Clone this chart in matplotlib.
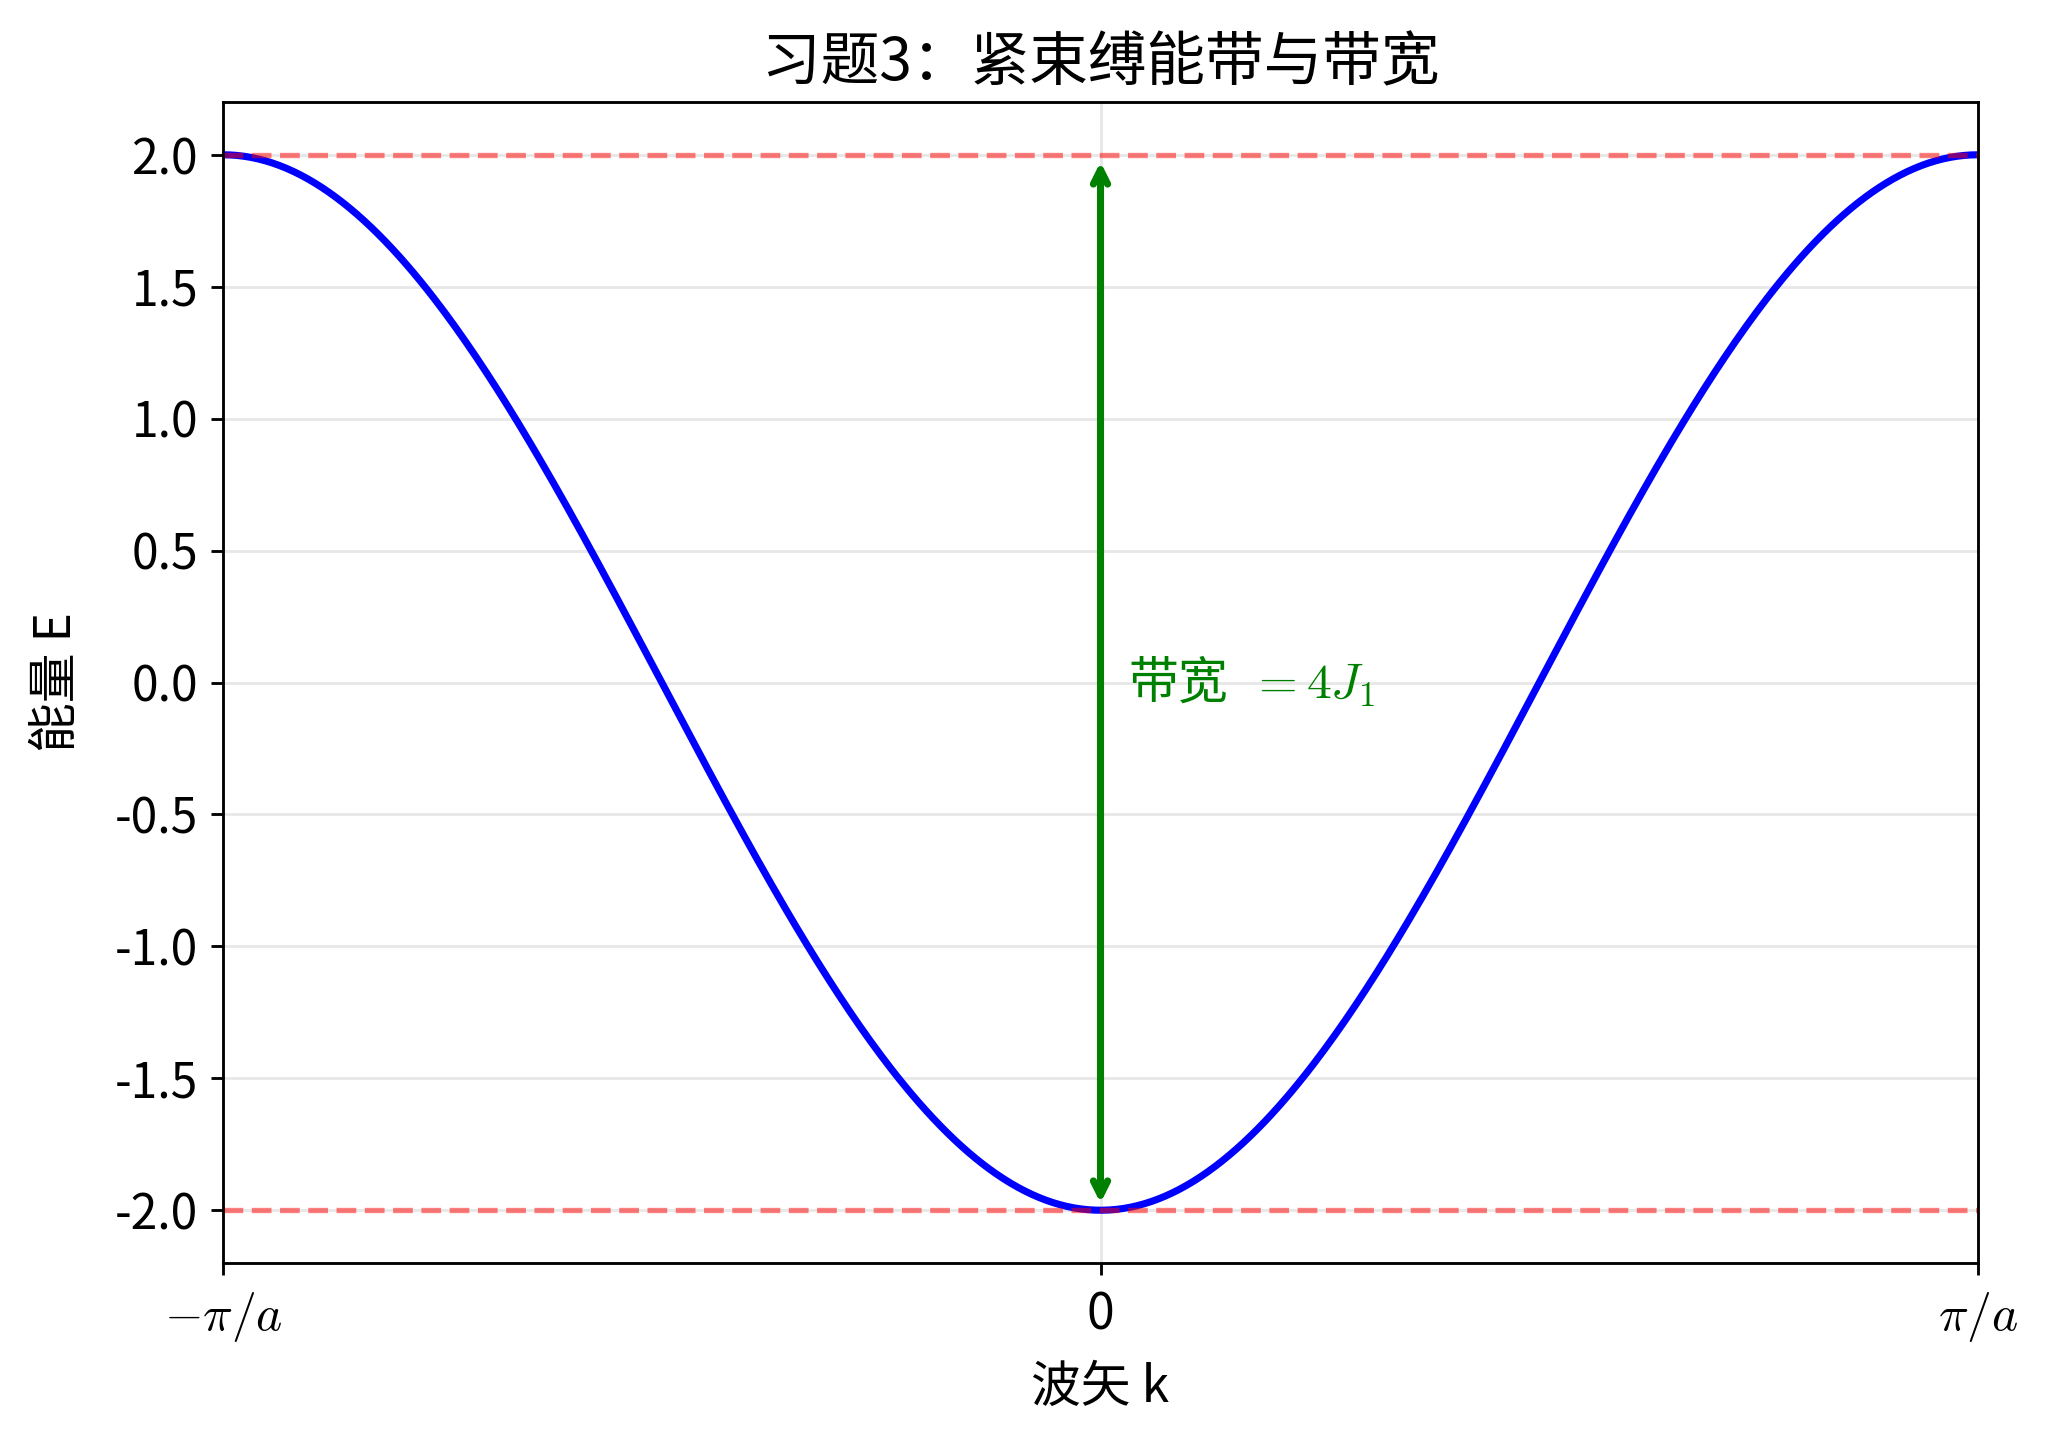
import numpy as np
import matplotlib
matplotlib.use("Agg")
import matplotlib.pyplot as plt

plt.rcParams['font.family'] = ['Noto Sans CJK SC', 'DejaVu Sans']
plt.rcParams['axes.unicode_minus'] = False
plt.rcParams['mathtext.fontset'] = 'cm'

# Band parameters (tight-binding, E = -2 J1 cos(ka))
J1 = 1.0
a = 1.0
band_top = 2.0
band_bottom = -2.0
xtick_vals = [-np.pi / a, 0.0, np.pi / a]
xtick_labels = [r'$-\pi/a$', '0', r'$\pi/a$']
title = '习题3：紧束缚能带与带宽'
xlabel = '波矢 k'
ylabel = '能量 E'
annot_text = '带宽  $=4J_1$'

k = np.linspace(-np.pi / a, np.pi / a, 500)
E = -2 * J1 * np.cos(k * a)

W, H = 2048, 1438
DPI = 256
fig = plt.figure(figsize=(W / DPI, H / DPI), dpi=DPI)
ax = fig.add_axes([223 / W, 1 - 1263 / H, (1978 - 223) / W, (1263 - 102) / H])

ax.plot(k, E, color='blue', lw=2)
ax.axhline(band_top, color='red', ls='--', alpha=0.5, lw=1.5)
ax.axhline(band_bottom, color='red', ls='--', alpha=0.5, lw=1.5)
ax.annotate('', xy=(0, band_top), xytext=(0, band_bottom),
            arrowprops=dict(arrowstyle='<->', color='green', lw=2))
ax.text(0.1, 0.0, annot_text, color='green', fontsize=14, va='center')

ax.set_xlim(-np.pi / a, np.pi / a)
ax.set_ylim(-2.2, 2.2)
ax.set_xticks(xtick_vals)
ax.set_xticklabels(xtick_labels, fontsize=14)
ax.tick_params(axis='y', labelsize=13.5)
ax.tick_params(axis='x', pad=4)
ax.set_xlabel(xlabel, fontsize=14, labelpad=5)
ax.set_ylabel(ylabel, fontsize=14, labelpad=9)
ax.set_title(title, fontsize=16.5, fontweight='medium')
ax.grid(True, alpha=0.3)

fig.savefig('out.png', dpi=DPI)
